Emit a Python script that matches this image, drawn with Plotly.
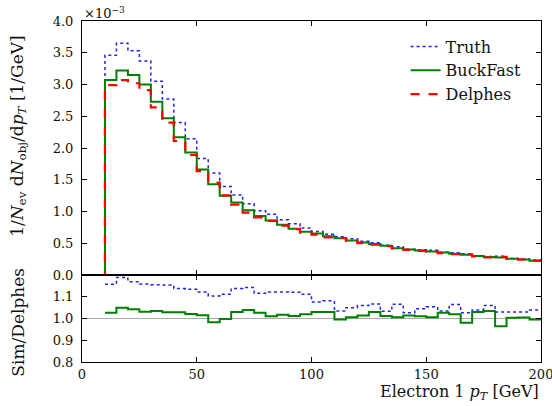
import plotly.graph_objects as go

# ---------------- data (units of 1e-3 / GeV) ----------------
bin_low = [0, 5, 10, 15, 20, 25, 30, 35, 40, 45, 50, 55, 60, 65, 70, 75, 80, 85, 90, 95,
           100, 105, 110, 115, 120, 125, 130, 135, 140, 145, 150, 155, 160, 165, 170, 175,
           180, 185, 190, 195]
bin_width = 5

truth = [0, 0, 3.46, 3.65, 3.53, 3.37, 3.05, 2.77, 2.40, 2.145, 1.835, 1.606, 1.393, 1.26,
         1.122, 1.011, 0.955, 0.872, 0.809, 0.741, 0.684, 0.640, 0.603, 0.569, 0.533, 0.508,
         0.470, 0.445, 0.405, 0.398, 0.388, 0.3575, 0.3498, 0.3353, 0.3027, 0.2922, 0.2938,
         0.2616, 0.2513, 0.2349]
buckfast = [0, 0, 3.07, 3.22, 3.15, 3.00, 2.73, 2.47, 2.17, 1.93, 1.66, 1.43, 1.25, 1.14,
            1.02, 0.93, 0.86, 0.79, 0.73, 0.68, 0.655, 0.61, 0.58, 0.545, 0.51, 0.49, 0.46,
            0.42, 0.40, 0.385, 0.37, 0.355, 0.335, 0.32, 0.30, 0.285, 0.275, 0.255, 0.245,
            0.225]
delphes = [0, 0, 2.99, 3.07, 3.02, 2.91, 2.64, 2.40, 2.11, 1.89, 1.635, 1.455, 1.253, 1.107,
           0.982, 0.906, 0.851, 0.777, 0.722, 0.667, 0.636, 0.592, 0.583, 0.542, 0.503, 0.476,
           0.455, 0.4175, 0.3945, 0.381, 0.368, 0.3457, 0.3287, 0.3265, 0.2913, 0.2756, 0.2853,
           0.254, 0.244, 0.2261]

x_ticks = [0, 50, 100, 150, 200]
main_yticks = [0.0, 0.5, 1.0, 1.5, 2.0, 2.5, 3.0, 3.5, 4.0]
ratio_yticks = [0.8, 0.9, 1.0, 1.1]

# ---------------- helpers ----------------
def step(vals):
    xs = list(bin_low) + [bin_low[-1] + bin_width]
    ys = list(vals) + [vals[-1]]
    return xs, ys

def ratio_step(num, den):
    xs, ys = [], []
    for lo, n, d in zip(bin_low, num, den):
        if d > 0:
            xs.append(lo)
            ys.append(n / d)
    xs.append(bin_low[-1] + bin_width)
    ys.append(ys[-1])
    return xs, ys

FONT = "DejaVu Serif"
BLUE = "#2222ee"
GREEN = "#008000"
RED = "#ff0000"

fig = go.Figure()

# main panel
for name, vals, color, dash, width in [
    ("Truth", truth, BLUE, "dot", 1.5),
    ("BuckFast", buckfast, GREEN, "solid", 2),
    ("Delphes", delphes, RED, "dash", 2.2),
]:
    xs, ys = step(vals)
    fig.add_trace(go.Scatter(x=xs, y=ys, mode="lines", name=name,
                             line=dict(color=color, dash=dash, width=width, shape="hv"),
                             xaxis="x", yaxis="y"))

# ratio panel
xs, ys = ratio_step(truth, delphes)
fig.add_trace(go.Scatter(x=xs, y=ys, mode="lines", showlegend=False,
                         line=dict(color=BLUE, dash="dot", width=1.5, shape="hv"),
                         xaxis="x2", yaxis="y2"))
xs, ys = ratio_step(buckfast, delphes)
fig.add_trace(go.Scatter(x=xs, y=ys, mode="lines", showlegend=False,
                         line=dict(color=GREEN, width=2, shape="hv"),
                         xaxis="x2", yaxis="y2"))

axis_common = dict(showline=True, linecolor="black", linewidth=1, mirror="ticks",
                   ticks="inside", ticklen=5, tickcolor="black", showgrid=False,
                   zeroline=False, automargin=False,
                   tickfont=dict(family=FONT, size=13, color="#111"))

split = 87 / 341
fig.update_layout(
    width=552, height=406,
    margin=dict(l=82, r=11, t=21, b=44, autoexpand=False),
    paper_bgcolor="white", plot_bgcolor="white",
    font=dict(family=FONT, color="#111"),
    xaxis=dict(range=[0, 200.001], domain=[0, 1], anchor="y", tickvals=x_ticks,
               showticklabels=False, **axis_common),
    yaxis=dict(range=[0, 4.0], domain=[split, 1], anchor="x", tickvals=main_yticks,
               ticktext=[f"{v:.1f}" for v in main_yticks], ticklabelstandoff=5,
               **axis_common),
    xaxis2=dict(range=[0, 200.001], domain=[0, 1], anchor="y2", tickvals=x_ticks,
                ticktext=[str(v) for v in x_ticks], ticklabeloverflow="allow",
                **axis_common),
    yaxis2=dict(range=[0.8, 1.2], domain=[0, split], anchor="x2", tickvals=ratio_yticks,
                ticktext=[f"{v:.1f}" for v in ratio_yticks], ticklabelstandoff=5,
                **axis_common),
    legend=dict(x=0.705, y=0.975, xanchor="left", yanchor="top",
                bgcolor="rgba(0,0,0,0)", borderwidth=0,
                font=dict(family=FONT, size=16, color="#111"),
                tracegroupgap=0, itemwidth=30),
    showlegend=True,
)

fig.add_shape(type="line", xref="x2", yref="y2", x0=0, x1=200, y0=1.0, y1=1.0,
              line=dict(color="#aaaaaa", width=1), layer="below")

fig.add_annotation(text="×10<sup>−3</sup>", xref="paper", yref="paper", x=0.0, y=1.0,
                   xanchor="left", yanchor="bottom", showarrow=False,
                   font=dict(family=FONT, size=13, color="#111"), yshift=-2)
fig.add_annotation(text="1/<i>N</i><sub>ev</sub> d<i>N</i><sub>obj</sub>/d<i>p</i><sub><i>T</i></sub> [1/GeV]",
                   xref="paper", yref="paper", x=-0.14, y=(split + 1) / 2 + 0.035,
                   xanchor="center", yanchor="middle", textangle=-90, showarrow=False,
                   font=dict(family=FONT, size=17, color="#111"))
fig.add_annotation(text="Sim/Delphes", xref="paper", yref="paper", x=-0.14, y=split / 2 - 0.01,
                   xanchor="center", yanchor="middle", textangle=-90, showarrow=False,
                   font=dict(family=FONT, size=17, color="#111"))
fig.add_annotation(text="Electron 1 <i>p</i><sub><i>T</i></sub> [GeV]", xref="paper", yref="paper",
                   x=1.0, y=-0.088, xanchor="right", yanchor="middle", showarrow=False,
                   font=dict(family=FONT, size=16, color="#111"))

fig.write_html("out.html")
